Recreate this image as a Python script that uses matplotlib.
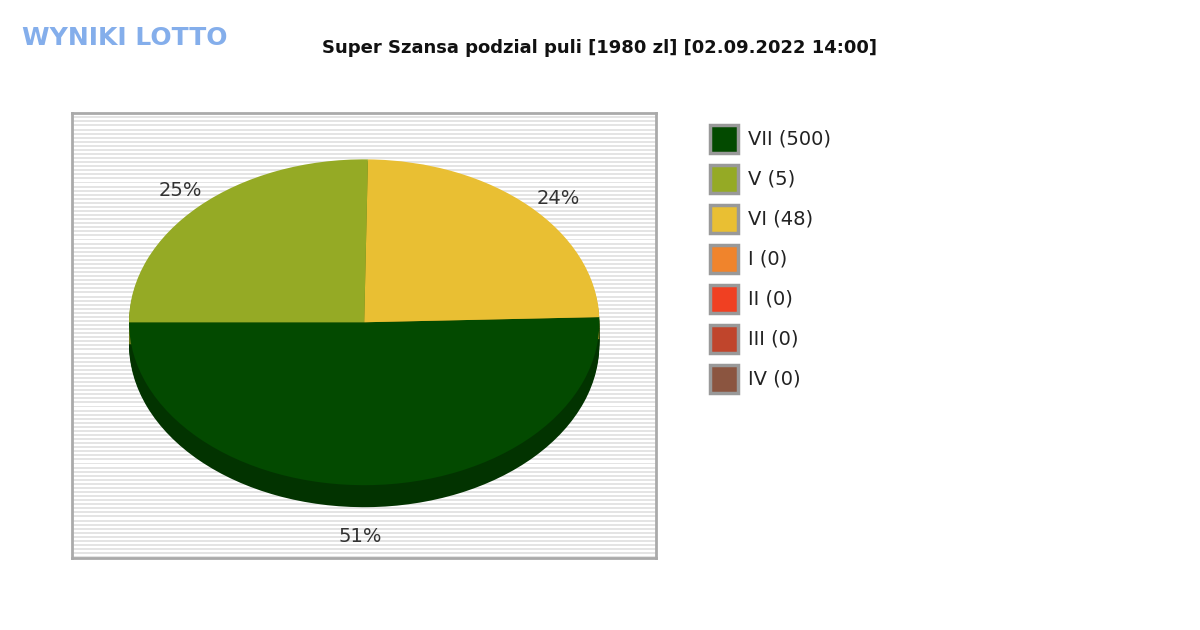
import matplotlib
matplotlib.use("Agg")
import matplotlib.pyplot as plt
from matplotlib.patches import Rectangle

labels = ["VII (500)", "V (5)", "VI (48)", "I (0)", "II (0)", "III (0)", "IV (0)"]
colors = ["#034a00", "#95aa25", "#e9bf33", "#f0842c", "#f04022", "#c0452c", "#8b5540"]
pie_values = [1000, 480, 500]  # VII, VI, V amounts in zl
pie_colors = ["#034a00", "#e9bf33", "#95aa25"]
depth_colors = ["#023300", "#a88a24", "#6b7a1a"]
pct_text = ["51%", "24%", "25%"]

fig = plt.figure(figsize=(12, 6.3), dpi=100)
ax = fig.add_axes([0.06, 0.114, 0.487, 0.706])
a = 584 / 2 / 235
y = -1.448
while y < 1.282:
    ax.axhspan(y, y + 0.012, color="#e4e4e4", lw=0, zorder=0)
    y += 0.025
ax.set_facecolor("white")

d = 0.135
for k in range(12):
    ax.pie(pie_values, colors=depth_colors, startangle=180, counterclock=True,
           center=(0, -d * (k + 1) / 12), radius=1, frame=True,
           wedgeprops=dict(linewidth=0))
ax.pie(pie_values, colors=pie_colors, startangle=180, counterclock=True,
       center=(0, 0), radius=1, frame=True,
       wedgeprops=dict(linewidth=0))
ax.set_aspect("auto")
ax.set_xlim(-a, a)
ax.set_ylim(-1.448, 1.282)
ax.set_xticks([]); ax.set_yticks([])
for s in ax.spines.values():
    s.set_color("#aaaaaa"); s.set_linewidth(2)

fig.text(360/1200, 1-537/630, pct_text[0], ha="center", va="center", fontsize=14, color="#333")
fig.text(558/1200, 1-198/630, pct_text[1], ha="center", va="center", fontsize=14, color="#333")
fig.text(180/1200, 1-190/630, pct_text[2], ha="center", va="center", fontsize=14, color="#333")

fig.text(600/1200, 1-48/630, "Super Szansa podzial puli [1980 zl] [02.09.2022 14:00]",
         ha="center", va="center", fontsize=13, fontweight="bold", color="#111")
fig.text(22/1200, 1-38/630, "WYNIKI LOTTO", ha="left", va="center", fontsize=18,
         fontweight="bold", color="#6fa0e8", alpha=0.85)

for i, (lab, c) in enumerate(zip(labels, colors)):
    yy = 1 - (139 + 40 * i) / 630
    fig.patches.append(Rectangle((710/1200, yy - 14/630), 28/1200, 28/630,
                                 transform=fig.transFigure, facecolor=c,
                                 edgecolor="#999999", lw=2.5))
    fig.text(748/1200, yy, lab, ha="left", va="center", fontsize=14, color="#222")

fig.savefig("out.png", dpi=100)
